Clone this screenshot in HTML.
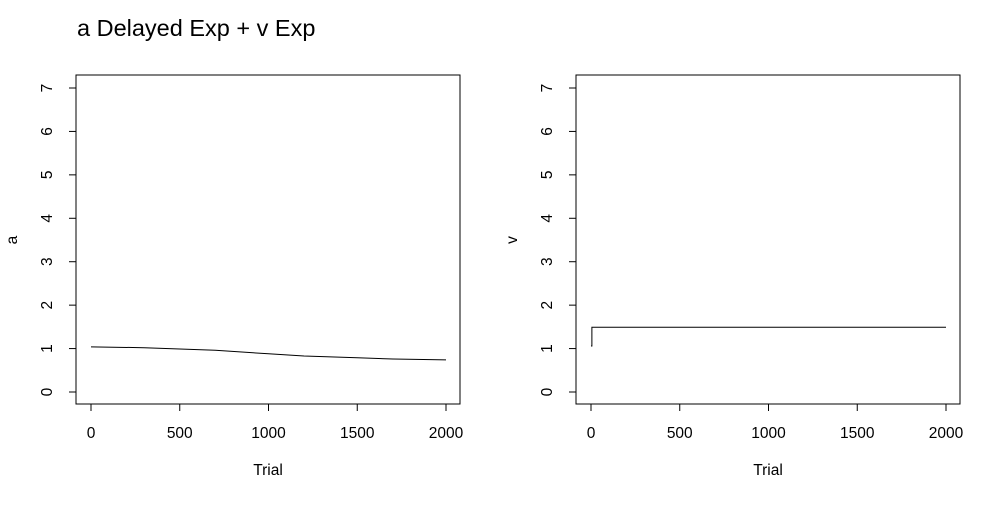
<!DOCTYPE html>
<html><head><meta charset="utf-8"><style>
body{margin:0;background:#fff;font-family:"Liberation Sans",sans-serif}
svg text{font-family:"Liberation Sans",sans-serif;fill:#000}
</style></head><body>
<svg id="c" width="1000" height="500" xmlns="http://www.w3.org/2000/svg">
<text x="77" y="36" font-size="23.5">a Delayed Exp + v Exp</text>
</svg>
<script>
const xTicks=[0,500,1000,1500,2000];
const yTicks=[0,1,2,3,4,5,6,7];
const aTrials=[0,300,500,700,1000,1200,1500,1700,2000];
const aValues=[1.04,1.02,0.99,0.96,0.88,0.83,0.79,0.76,0.74];
const vTrials=[0,5,5,2000];
const vValues=[1.06,1.06,1.49,1.49];
const svg=document.getElementById('c');
const NS='http://www.w3.org/2000/svg';
function mk(t,a,p){const e=document.createElementNS(NS,t);for(const k in a)e.setAttribute(k,a[k]);(p||svg).appendChild(e);return e;}
function panel(left,name,ylab,xs,ys){
  const g=mk('g',{});
  
  
  const x0=left+15,x1=left+370,yb=392,yt=88;
  const sx=v=>x0+(x1-x0)*v/2000, sy=v=>yb-(yb-yt)*v/7;
  const box=mk('rect',{x:left,y:75,width:384,height:329,fill:'none',stroke:'#000','stroke-width':1},g);
  
  
  mk('line',{x1:sx(0),x2:sx(2000),y1:404,y2:404,stroke:'#000'},g);
  xTicks.forEach(t=>{mk('line',{x1:sx(t),x2:sx(t),y1:404,y2:411,stroke:'#000'},g);
    const tx=mk('text',{x:sx(t),y:438,'font-size':15.5,'text-anchor':'middle'},g);tx.textContent=t;
    
    });
  mk('line',{x1:left,x2:left,y1:sy(0),y2:sy(7),stroke:'#000'},g);
  yTicks.forEach(t=>{mk('line',{x1:left-7,x2:left,y1:sy(t),y2:sy(t),stroke:'#000'},g);
    const tx=mk('text',{x:left-29,y:sy(t),'font-size':15.5,'text-anchor':'middle',transform:`rotate(-90 ${left-29} ${sy(t)})`,dy:5},g);tx.textContent=t;
    
    });
  const xl=mk('text',{x:left+192,y:475,'font-size':15.5,'text-anchor':'middle'},g);xl.textContent='Trial';
  
  
  const yl=mk('text',{x:left-64,y:240,'font-size':15.5,'text-anchor':'middle',transform:`rotate(-90 ${left-64} 240)`,dy:5},g);yl.textContent=ylab;
  
  
  const p=mk('polyline',{points:xs.map((x,i)=>sx(x)+','+sy(ys[i])).join(' '),fill:'none',stroke:'#000','stroke-width':1},g);
  
  
}
panel(76,'a','a',aTrials,aValues);
panel(576,'v','v',vTrials,vValues);
</script>
</body></html>
